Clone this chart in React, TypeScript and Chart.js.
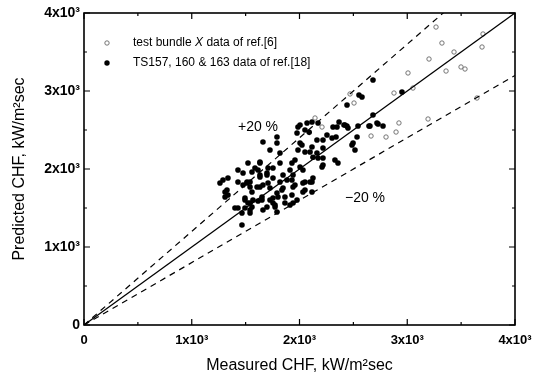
import React, { useEffect, useRef } from "react";
import { Chart, registerables } from "chart.js";

Chart.register(...registerables);

const FONT = "'Liberation Sans', Arial, Helvetica, sans-serif";

const axisTicks = [0, 1000, 2000, 3000, 4000];
const axisTickLabels = ["0", "1x10³", "2x10³", "3x10³", "4x10³"];
const axisMin = 0;
const axisMax = 4000;
const minorStep = 500;

const refLineX = [0, 4000];
const upperRatio = 1.2;
const lowerRatio = 0.8;

const xTitle = "Measured CHF, kW/m²sec";
const yTitle = "Predicted CHF, kW/m²sec";

const legendOpenPre = "test bundle ";
const legendOpenItalic = "X";
const legendOpenPost = " data of ref.[6]";
const legendFilled = "TS157, 160 & 163 data of ref.[18]";

const annotations = [
  { text: "+20 %", x: 1615, y: 2538 },
  { text: "−20 %", x: 2608, y: 1628 },
];

// test bundle X data of ref.[6]  (open circles)
const openPoints: [number, number][] = [
  [3267, 3820], [3322, 3615], [3202, 3410], [3434, 3500], [3703, 3731],
  [3694, 3564], [3499, 3308], [3536, 3282], [3360, 3256], [3007, 3231],
  [3053, 3038], [2877, 2974], [3647, 2910], [3193, 2641], [2923, 2590],
  [2896, 2474], [2803, 2410], [2469, 2962], [2506, 2846], [2664, 2423],
  [2144, 2654], [2209, 2538],
];

// TS157, 160 & 163 data of ref.[18]  (filled circles)
const filledPoints: [number, number][] = [
  [2682, 3141], [2951, 2987], [2682, 2692], [2719, 2590], [2775, 2551], [2654, 2551],
  [2580, 2923], [2552, 2949], [2441, 2821], [2543, 2551], [2413, 2564], [2440, 2550],
  [2367, 2603], [2311, 2538], [2645, 2551], [2729, 2577], [2534, 2410], [2487, 2308],
  [2339, 2410], [2070, 2590], [2090, 2470], [1986, 2538], [1977, 2462], [2348, 2538],
  [2422, 2564], [2450, 2526], [2255, 2436], [2218, 2372], [2302, 2397], [2162, 2372],
  [2005, 2333], [1986, 2244], [2051, 2218], [2116, 2282], [2162, 2205], [2218, 2269],
  [2172, 2141], [2125, 2150], [2497, 2333], [2515, 2244], [2329, 2115], [2218, 2051],
  [1661, 2346], [1791, 2333], [1726, 2244], [1819, 2205], [1791, 2410], [1633, 2090],
  [1522, 2077], [1429, 1987], [1559, 1962], [1615, 1987], [1708, 2013], [1698, 1923],
  [1633, 1897], [1290, 1859], [1336, 1885], [1327, 1731], [1309, 1641], [1476, 1795],
  [1541, 1833], [1606, 1769], [1559, 1705], [1494, 1628], [1522, 1564], [1568, 1603],
  [1429, 1500], [1494, 1500], [1541, 1474], [1698, 1513], [1726, 1603], [1791, 1692],
  [1847, 1756], [1884, 1859], [1847, 1923], [1930, 1859], [1940, 1923], [1912, 1987],
  [1930, 2077], [2005, 2026], [1958, 2115], [1819, 1833], [1940, 1769], [2051, 1833],
  [2098, 1833], [2125, 1885], [2051, 1731], [1930, 1667], [1977, 1603], [1865, 1564],
  [1912, 1538], [1652, 1641], [1754, 1628], [1800, 1641], [2051, 2500], [2005, 2564],
  [2116, 2603], [2172, 2590], [2023, 2308], [2098, 2218], [1633, 2077], [1587, 2013],
  [1476, 1949], [1429, 1833], [1513, 1833], [1754, 2013], [1819, 2077], [1754, 1885],
  [1262, 1821], [1309, 1705], [1336, 1667], [1513, 1821], [1541, 1769], [1633, 1769],
  [1633, 1923], [1698, 1949], [1661, 1795], [1708, 1821], [1726, 1756], [1494, 1603],
  [1541, 1564], [1559, 1513], [1401, 1500], [1466, 1436], [1541, 1436], [1652, 1603],
  [1661, 1474], [1615, 1590], [1754, 1564], [1773, 1513], [1466, 1282], [2357, 2077],
  [2209, 2026], [2218, 2141], [2116, 1833], [2032, 1821], [2116, 1705], [2032, 1705],
  [1958, 1795], [1865, 1641], [1837, 1731], [1940, 1564], [1773, 1538], [1791, 1449],
  [2032, 1987],
];

const framePlugin = {
  id: "framePlugin",
  afterDatasetsDraw(chart: any) {
    const { ctx, chartArea: a, scales } = chart;
    const xs = scales.x;
    const ys = scales.y;
    ctx.save();
    ctx.strokeStyle = "#000";
    ctx.lineWidth = 1.6;
    ctx.strokeRect(a.left, a.top, a.right - a.left, a.bottom - a.top);
    ctx.lineWidth = 1.2;
    ctx.beginPath();
    for (let v = axisMin; v <= axisMax; v += minorStep) {
      const len = v % 1000 === 0 ? 6 : 3;
      const px = xs.getPixelForValue(v);
      const py = ys.getPixelForValue(v);
      ctx.moveTo(px, a.bottom);
      ctx.lineTo(px, a.bottom - len);
      ctx.moveTo(px, a.top);
      ctx.lineTo(px, a.top + len);
      ctx.moveTo(a.left, py);
      ctx.lineTo(a.left + len, py);
      ctx.moveTo(a.right, py);
      ctx.lineTo(a.right - len, py);
    }
    ctx.stroke();

    // annotations
    ctx.fillStyle = "#000";
    ctx.font = `14px ${FONT}`;
    ctx.textAlign = "center";
    ctx.textBaseline = "middle";
    for (const an of annotations) {
      ctx.fillText(an.text, xs.getPixelForValue(an.x), ys.getPixelForValue(an.y));
    }

    // legend
    const mx = a.left + 23;
    const y1 = a.top + 30;
    const y2 = a.top + 50;
    const tx = a.left + 49;
    ctx.beginPath();
    ctx.arc(mx, y1, 2.2, 0, Math.PI * 2);
    ctx.lineWidth = 0.9;
    ctx.strokeStyle = "#666";
    ctx.stroke();
    ctx.beginPath();
    ctx.arc(mx, y2, 2.7, 0, Math.PI * 2);
    ctx.fillStyle = "#000";
    ctx.fill();

    ctx.textAlign = "left";
    ctx.textBaseline = "middle";
    ctx.font = `12px ${FONT}`;
    let cx = tx;
    ctx.fillText(legendOpenPre, cx, y1);
    cx += ctx.measureText(legendOpenPre).width;
    ctx.font = `italic 12px ${FONT}`;
    ctx.fillText(legendOpenItalic, cx, y1);
    cx += ctx.measureText(legendOpenItalic).width;
    ctx.font = `12px ${FONT}`;
    ctx.fillText(legendOpenPost, cx, y1);
    ctx.fillText(legendFilled, tx, y2);
    ctx.restore();
  },
};

export default function App() {
  const ref = useRef<HTMLCanvasElement | null>(null);

  useEffect(() => {
    if (!ref.current) return;
    const toXY = (p: [number, number]) => ({ x: p[0], y: p[1] });
    const lineData = (r: number) => refLineX.map((x) => ({ x, y: x * r }));
    const tickCb = (v: any) => {
      const i = axisTicks.indexOf(Number(v));
      return i >= 0 ? axisTickLabels[i] : "";
    };
    const chart = new Chart(ref.current, {
      type: "scatter",
      data: {
        datasets: [
          {
            type: "line",
            data: lineData(1),
            borderColor: "#000",
            borderWidth: 1.3,
            pointRadius: 0,
            fill: false,
          },
          {
            type: "line",
            data: lineData(upperRatio),
            borderColor: "#000",
            borderWidth: 1.2,
            borderDash: [6, 5],
            pointRadius: 0,
            fill: false,
          },
          {
            type: "line",
            data: lineData(lowerRatio),
            borderColor: "#000",
            borderWidth: 1.2,
            borderDash: [6, 5],
            pointRadius: 0,
            fill: false,
          },
          {
            data: openPoints.map(toXY),
            pointRadius: 2.2,
            pointBorderWidth: 0.9,
            pointBorderColor: "#666",
            pointBackgroundColor: "#fff",
          },
          {
            data: filledPoints.map(toXY),
            pointRadius: 2.8,
            pointBorderWidth: 0,
            pointBackgroundColor: "#000",
            pointBorderColor: "#000",
          },
        ],
      } as any,
      options: {
        responsive: false,
        animation: false,
        layout: { padding: { left: 0, right: 27, top: 13, bottom: 0 } },
        plugins: { legend: { display: false }, tooltip: { enabled: false } },
        scales: {
          x: {
            type: "linear",
            min: axisMin,
            max: axisMax,
            afterBuildTicks: (s: any) => {
              s.ticks = axisTicks.map((value) => ({ value }));
            },
            afterFit: (s: any) => {
              s.height = 55;
            },
            grid: { display: false, drawTicks: false },
            border: { display: false },
            ticks: {
              callback: tickCb,
              padding: 8,
              maxRotation: 0,
              autoSkip: false,
              color: "#000",
              font: { family: FONT, size: 13, weight: "bold" },
            },
            title: {
              display: true,
              text: xTitle,
              color: "#000",
              font: { family: FONT, size: 16 },
              padding: { top: 0, bottom: 5 },
            },
          },
          y: {
            type: "linear",
            min: axisMin,
            max: axisMax,
            afterBuildTicks: (s: any) => {
              s.ticks = axisTicks.map((value) => ({ value }));
            },
            afterFit: (s: any) => {
              s.width = 84;
            },
            grid: { display: false, drawTicks: false },
            border: { display: false },
            ticks: {
              callback: tickCb,
              padding: 4,
              autoSkip: false,
              color: "#000",
              font: { family: FONT, size: 14, weight: "bold" },
            },
            title: {
              display: true,
              text: yTitle,
              color: "#000",
              font: { family: FONT, size: 16 },
              padding: { top: 10, bottom: 0 },
            },
          },
        },
      } as any,
      plugins: [framePlugin],
    });
    return () => chart.destroy();
  }, []);

  return (
    <div style={{ position: "absolute", left: 0, top: 0, width: 542, height: 380, background: "#fff" }}>
      <canvas ref={ref} width={542} height={380} style={{ display: "block" }} />
    </div>
  );
}
